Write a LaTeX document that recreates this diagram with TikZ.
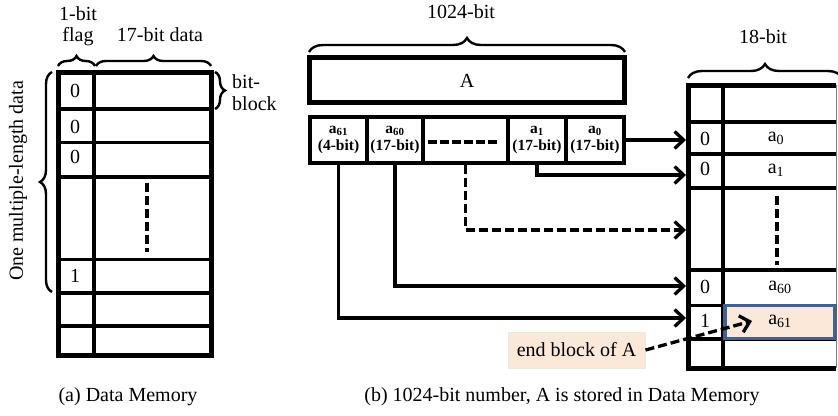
\documentclass[tikz,border=0pt]{standalone}
\usepackage{fontspec}
\setmainfont{Liberation Serif}
\usetikzlibrary{arrows.meta,decorations.pathreplacing}
\definecolor{peach}{HTML}{FBE8D9}
\definecolor{hlblue}{HTML}{3F6391}
\definecolor{paleedge}{HTML}{E4ECDA}
\begin{document}
\begin{tikzpicture}[x=1pt,y=-1pt,
  txt/.style={font=\fontsize{20}{24}\selectfont, inner sep=0},
  segtxt/.style={font=\bfseries\fontsize{15.5}{17}\selectfont, align=center, inner sep=0},
  segbox/.style={draw, line width=4.5pt, minimum height=46pt, inner sep=0},
  tk/.style={line width=4.5pt},
  md/.style={line width=3pt},
  brc/.style={decorate, decoration={brace, amplitude=#1}, line width=2.4pt},
  arr/.style={line width=3.3pt, -{Straight Barb[length=9pt,width=17pt]}},
  darr/.style={arr, dash pattern=on 9pt off 4pt},
  dsh/.style={line width=4pt, dash pattern=on 9pt off 4pt},
]
\clip (0,0) rectangle (838,415);
\fill[white] (0,0) rectangle (838,415);

% ---------- (a) Data Memory ----------
\draw[tk] (94,72) -- (94,355);
\foreach \yy in {109,177,293,326} \draw[tk] (58,\yy) -- (211,\yy);
\foreach \yy in {142,259} \draw[md] (58,\yy) -- (211,\yy);
\draw[line width=5pt] (58,72) rectangle (211,355);
\draw[dsh] (147,183) -- (147,252);
\node[txt] (fa1) at (75,91) {0};
\node[txt] (fa2) at (75,127) {0};
\node[txt] (fa3) at (75,157) {0};
\node[txt] (fa4) at (75,276) {1};

\node[txt] (onebit) at (78,14) {1-bit};
\node[txt] (flag) at (78,37) {flag};
\node[txt] (data17) at (160,35) {17-bit data};
\draw[brc=10] (58,66) -- (95,66);
\draw[brc=10] (96,66) -- (211,66);
\draw[brc=10] (215,72) -- (215,109);
\node[txt, anchor=west] (bitl) at (232,82) {bit-};
\node[txt, anchor=west] (blockl) at (232,104) {block};
\draw[brc=12] (52,292) -- (52,72);
\node[txt, rotate=90] (oml) at (18,181) {One multiple-length data};
\node[txt] (capa) at (128,397) {(a) Data Memory};

% ---------- (b) ----------
\node[txt] (b1024) at (461,12) {1024-bit};
\draw[brc=14] (309,52) -- (625,52);
\node[draw, line width=5pt, minimum width=315pt, minimum height=45pt, inner sep=0] (A) at (467,80) {};
\node[txt] (Alabel) at (467,81) {A};

\node[segbox, minimum width=57pt] (s61) at (338.5,140) {};
\node[segbox, minimum width=56pt] (s60) at (395,140) {};
\node[segbox, minimum width=85pt] (sd) at (465.5,140) {};
\node[segbox, minimum width=58pt] (s1) at (537,140) {};
\node[segbox, minimum width=58pt] (s0) at (595,140) {};
\node[segtxt] (t61) at (338.5,140) {a\textsubscript{61}\\(4-bit)};
\node[segtxt] (t60) at (395,140) {a\textsubscript{60}\\(17-bit)};
\node[segtxt] (t1) at (537,140) {a\textsubscript{1}\\(17-bit)};
\node[segtxt] (t0) at (595,140) {a\textsubscript{0}\\(17-bit)};
\draw[line width=4.5pt, dash pattern=on 9pt off 3pt] (428,142) -- (498,142);

% right table
\node[txt] (b18) at (763,37) {18-bit};
\draw[brc=14] (688,78) -- (842,78);
\draw[tk] (723,85) -- (723,368);
\foreach \yy in {122,154,188,270,339} \draw[tk] (688,\yy) -- (836,\yy);
\draw[md] (688,305) -- (836,305);
\draw[line width=1pt, gray] (836,85) -- (836,368);
\draw[line width=5pt] (836,85) -- (688,85) -- (688,368) -- (836,368);
\node[draw=hlblue, fill=peach, line width=3.5pt, minimum width=110pt, minimum height=33pt, inner sep=0] (c61) at (780,322) {};
\draw[dsh] (777,196) -- (777,265);

\node[txt] (r0f) at (705,139) {0};
\node[txt] (r1f) at (705,169) {0};
\node[txt] (r60f) at (705,287) {0};
\node[txt] (r61f) at (705,321) {1};
\node[txt] (r0) at (776,138) {a\textsubscript{0}};
\node[txt] (r1) at (776,170) {a\textsubscript{1}};
\node[txt] (r60) at (780,287) {a\textsubscript{60}};
\node[txt] (r61) at (780,321) {a\textsubscript{61}};

\coordinate (in0) at (686,140);
\coordinate (in1) at (686,175);
\coordinate (ind) at (686,230);
\coordinate (in60) at (686,286);
\coordinate (in61) at (686,318);
\coordinate (intgt) at (752,321);

\draw[arr] (s0.east) -- (in0);
\draw[arr] (s1.south) |- (in1);
\draw[darr] (sd.south) |- (ind);
\draw[arr] (s60.south) |- (in60);
\draw[arr] (s61.south) |- (in61);

\node[fill=peach, draw=paleedge, line width=1pt, minimum width=137pt, minimum height=36pt, inner sep=0] (endA) at (576.5,350) {};
\node[txt] (endAt) at (576.5,350) {end block of A};
\draw[darr] (endA.east) -- (intgt);

\node[txt] (capb) at (562,397) {(b) 1024-bit number, A is stored in Data Memory};
\end{tikzpicture}
\end{document}
